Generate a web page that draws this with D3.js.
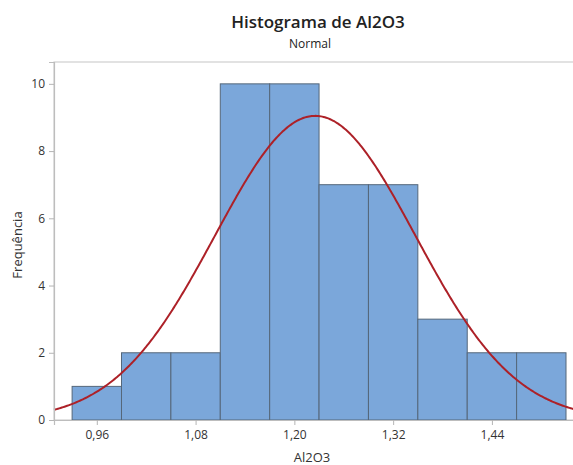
<!DOCTYPE html>
<html>
<head>
<meta charset="utf-8">
<script src="https://cdn.jsdelivr.net/npm/d3@7"></script>
<style>
  html, body { margin: 0; padding: 0; background: #fff; }
  svg { display: block; font-family: "Open Sans", "Noto Sans", sans-serif; }
</style>
</head>
<body>
<svg id="chart" width="573" height="465"></svg>
<script>
// Histogram bins (lower / upper edges) and their counts
const binStarts = [0.93, 0.99, 1.05, 1.11, 1.17, 1.23, 1.29, 1.35, 1.41, 1.47];
const binWidth = 0.06;
const counts = [1, 2, 2, 10, 10, 7, 7, 3, 2, 2];

// Fitted normal curve parameters
const fitMean = 1.2253;
const fitStDev = 0.1217;

// Axis ticks
const xTicks = [0.96, 1.08, 1.20, 1.32, 1.44];
const yTicks = [0, 2, 4, 6, 8, 10];

const svg = d3.select("#chart");
const plot = { left: 54, top: 62, right: 580, bottom: 420 };

const x = d3.scaleLinear().domain([0.908, 1.547]).range([plot.left, plot.right]);
const y = d3.scaleLinear().domain([0, 10.65]).range([plot.bottom, plot.top]);

const fmt = d => d3.format(".2f")(d).replace(".", ",");

// Plot frame
svg.append("rect")
  .attr("x", plot.left).attr("y", plot.top)
  .attr("width", plot.right - plot.left).attr("height", plot.bottom - plot.top)
  .attr("fill", "none").attr("stroke", "#cfcfcf").attr("stroke-width", 1.2);

// Bars
const bins = binStarts.map((s, i) => ({ x0: s, x1: s + binWidth, n: counts[i] }));
svg.append("g").selectAll("rect").data(bins).join("rect")
  .attr("x", d => x(d.x0))
  .attr("y", d => y(d.n))
  .attr("width", d => x(d.x1) - x(d.x0))
  .attr("height", d => y(0) - y(d.n))
  .attr("fill", "#7ba7da")
  .attr("stroke", "#55677a")
  .attr("stroke-width", 1);

// Normal density scaled to counts
const n = d3.sum(counts);
const dens = v => n * binWidth / (fitStDev * Math.sqrt(2 * Math.PI)) *
  Math.exp(-0.5 * Math.pow((v - fitMean) / fitStDev, 2));
const curvePts = d3.range(0, 401).map(i => {
  const v = x.domain()[0] + (x.domain()[1] - x.domain()[0]) * i / 400;
  return [v, dens(v)];
});
svg.append("path")
  .datum(curvePts)
  .attr("fill", "none")
  .attr("stroke", "#ad2128")
  .attr("stroke-width", 2)
  .attr("d", d3.line().x(d => x(d[0])).y(d => y(d[1])));

// Axes
const xAxis = svg.append("g")
  .attr("transform", `translate(0,${plot.bottom})`)
  .call(d3.axisBottom(x).tickValues(xTicks).tickFormat(fmt).tickSize(5).tickPadding(5));
const yAxis = svg.append("g")
  .attr("transform", `translate(${plot.left},0)`)
  .call(d3.axisLeft(y).tickValues(yTicks).tickSize(5).tickPadding(4));

[xAxis, yAxis].forEach(g => {
  g.select(".domain").attr("stroke", "#bdbdbd").attr("stroke-width", 1.2);
  g.selectAll(".tick line").attr("stroke", "#b5b5b5");
  g.selectAll(".tick text").attr("fill", "#333").attr("font-size", 12)
    .attr("font-family", "'Open Sans', 'Noto Sans', sans-serif");
});

// Titles
svg.append("text")
  .attr("x", 318).attr("y", 28)
  .attr("text-anchor", "middle")
  .attr("font-size", 17).attr("font-weight", 600).attr("fill", "#222")
  .text("Histograma de Al2O3");
svg.append("text")
  .attr("x", 310).attr("y", 48)
  .attr("text-anchor", "middle")
  .attr("font-size", 12).attr("fill", "#222")
  .text("Normal");

// Axis labels
svg.append("text")
  .attr("x", 312).attr("y", 462)
  .attr("text-anchor", "middle")
  .attr("font-size", 13).attr("fill", "#333")
  .text("Al2O3");
svg.append("text")
  .attr("transform", "translate(22,245) rotate(-90)")
  .attr("text-anchor", "middle")
  .attr("font-size", 13).attr("fill", "#333")
  .text("Frequência");
</script>
</body>
</html>
